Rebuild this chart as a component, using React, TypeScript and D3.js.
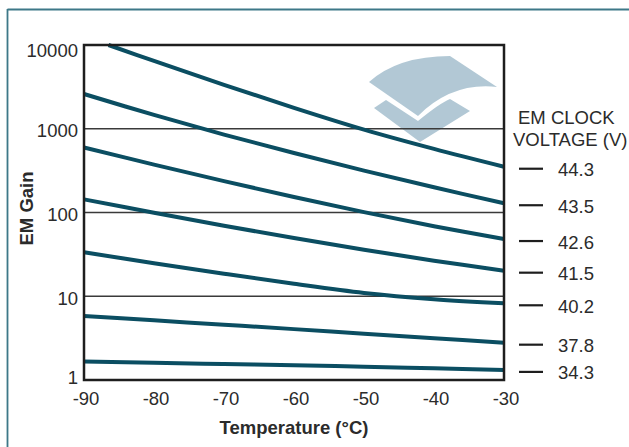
import React, { useRef, useEffect } from 'react';
import * as d3 from 'd3';

// temperatures (°C) at which gains were read
const temps = [-90, -80, -70, -60, -50, -40, -30];
// top curve begins inside the plot, at 10000 gain
const topTemps = [-86.5, -80, -70, -60, -50, -40, -30];

const voltages = ['44.3', '43.5', '42.6', '41.5', '40.2', '37.8', '34.3'];

const gain443 = [10000, 6457, 3350, 1778, 977, 575, 352];
const gain435 = [2600, 1462, 851, 513, 316, 200, 129];
const gain426 = [598, 373, 237, 153, 101, 68.5, 48.2];
const gain415 = [143.5, 99.3, 69.5, 49.5, 35.9, 26.6, 20.2];
const gain402 = [33.5, 24.8, 18.6, 14.1, 10.96, 9.23, 8.24];
const gain378 = [5.81, 5.16, 4.57, 4.05, 3.57, 3.16, 2.79];
const gain343 = [1.66, 1.61, 1.55, 1.5, 1.44, 1.38, 1.32];

const seriesGains = [gain443, gain435, gain426, gain415, gain402, gain378, gain343];

const xTicks = [-90, -80, -70, -60, -50, -40, -30];
const yTicks = [1, 10, 100, 1000, 10000];

const W = 629;
const H = 447;
const FONT = '"Liberation Sans", Arial, Helvetica, sans-serif';
const LINE = '#0b4e62';
const TEXT = '#2b2b2b';
const FS = 18.5;

const App: React.FC = () => {
  const svgRef = useRef<SVGSVGElement>(null);

  useEffect(() => {
    if (!svgRef.current) return;
    const svg = d3.select(svgRef.current);
    svg.selectAll('*').remove();

    const left = 84;
    const right = 504;
    const top = 45;
    const bottom = 380;

    const x = d3.scaleLinear().domain([-90, -30]).range([left, right]);
    const y = d3.scaleLog().domain([1, 10000]).range([bottom, top]);

    // outer frame
    svg.append('line')
      .attr('x1', 7.5).attr('x2', W).attr('y1', 9.5).attr('y2', 9.5)
      .attr('stroke', '#3d7888').attr('stroke-width', 1.8);
    svg.append('line')
      .attr('x1', 7.5).attr('x2', 7.5).attr('y1', 9).attr('y2', H)
      .attr('stroke', '#3d7888').attr('stroke-width', 1.8);

    // watermark logo
    const logo = svg.append('g').attr('fill', '#aac3d1').attr('opacity', 0.9);
    logo.append('path')
      .attr('d', 'M369,82 Q398,56 450,56 L497,87 Q452,82 418,116 Z');
    logo.append('path')
      .attr('d', 'M374,108 L386,100 L418,121 Q440,103 450,99 L470,111 L420,142 Z');

    // grid lines
    svg.append('g')
      .selectAll('line')
      .data(yTicks.filter((t) => t > 1 && t < 10000))
      .enter()
      .append('line')
      .attr('x1', left).attr('x2', right)
      .attr('y1', (d) => y(d)).attr('y2', (d) => y(d))
      .attr('stroke', '#3a3a3a').attr('stroke-width', 1.3);

    // curves
    const line = d3.line<[number, number]>()
      .x((d) => x(d[0]))
      .y((d) => y(d[1]))
      .curve(d3.curveCatmullRom.alpha(0.5));

    seriesGains.forEach((g, i) => {
      const tt = i === 0 ? topTemps : temps;
      const pts = tt.map((t, k) => [t, g[k]] as [number, number]);
      svg.append('path')
        .attr('d', line(pts))
        .attr('fill', 'none')
        .attr('stroke', LINE)
        .attr('stroke-width', 4);
    });

    // plot border
    svg.append('rect')
      .attr('x', left).attr('y', top)
      .attr('width', right - left).attr('height', bottom - top)
      .attr('fill', 'none').attr('stroke', '#1e1e1e').attr('stroke-width', 2.5);

    // y tick labels
    svg.append('g')
      .selectAll('text')
      .data(yTicks)
      .enter()
      .append('text')
      .attr('x', 78)
      .attr('y', (d) => y(d) + (d === 1 ? -3 : d === 10000 ? 5 : 2))
      .attr('text-anchor', 'end')
      .attr('dominant-baseline', 'central')
      .attr('font-family', FONT)
      .attr('font-size', FS)
      .attr('fill', TEXT)
      .text((d) => String(d));

    // x tick labels
    svg.append('g')
      .selectAll('text')
      .data(xTicks)
      .enter()
      .append('text')
      .attr('x', (d) => x(d) + 2)
      .attr('y', 405)
      .attr('text-anchor', 'middle')
      .attr('font-family', FONT)
      .attr('font-size', FS)
      .attr('fill', TEXT)
      .text((d) => String(d));

    // axis titles
    svg.append('text')
      .attr('x', (left + right) / 2)
      .attr('y', 434)
      .attr('text-anchor', 'middle')
      .attr('font-family', FONT)
      .attr('font-size', FS)
      .attr('font-weight', 'bold')
      .attr('fill', TEXT)
      .text('Temperature (°C)');

    svg.append('text')
      .attr('transform', `translate(33, ${(top + bottom) / 2 - 4}) rotate(-90)`)
      .attr('text-anchor', 'middle')
      .attr('font-family', FONT)
      .attr('font-size', FS)
      .attr('font-weight', 'bold')
      .attr('fill', TEXT)
      .text('EM Gain');

    // legend
    svg.append('text')
      .attr('x', 518).attr('y', 124)
      .attr('font-family', FONT).attr('font-size', FS).attr('fill', TEXT)
      .text('EM CLOCK');
    svg.append('text')
      .attr('x', 513).attr('y', 146)
      .attr('font-family', FONT).attr('font-size', FS).attr('fill', TEXT)
      .text('VOLTAGE (V)');

    const legend = svg.append('g')
      .selectAll('g')
      .data(voltages)
      .enter()
      .append('g')
      .attr('transform', (d, i) => {
        const g = seriesGains[i];
        return `translate(0, ${y(g[g.length - 1]) + 2})`;
      });

    legend.append('line')
      .attr('x1', 519).attr('x2', 543)
      .attr('stroke', '#1e1e1e').attr('stroke-width', 2.2);

    legend.append('text')
      .attr('x', 558)
      .attr('y', 1)
      .attr('dominant-baseline', 'central')
      .attr('font-family', FONT)
      .attr('font-size', FS)
      .attr('fill', TEXT)
      .text((d) => d);
  }, []);

  return (
    <div style={{ position: 'absolute', left: 0, top: 0 }}>
      <svg ref={svgRef} width={W} height={H} style={{ display: 'block', background: '#fff' }} />
    </div>
  );
};

export default App;
